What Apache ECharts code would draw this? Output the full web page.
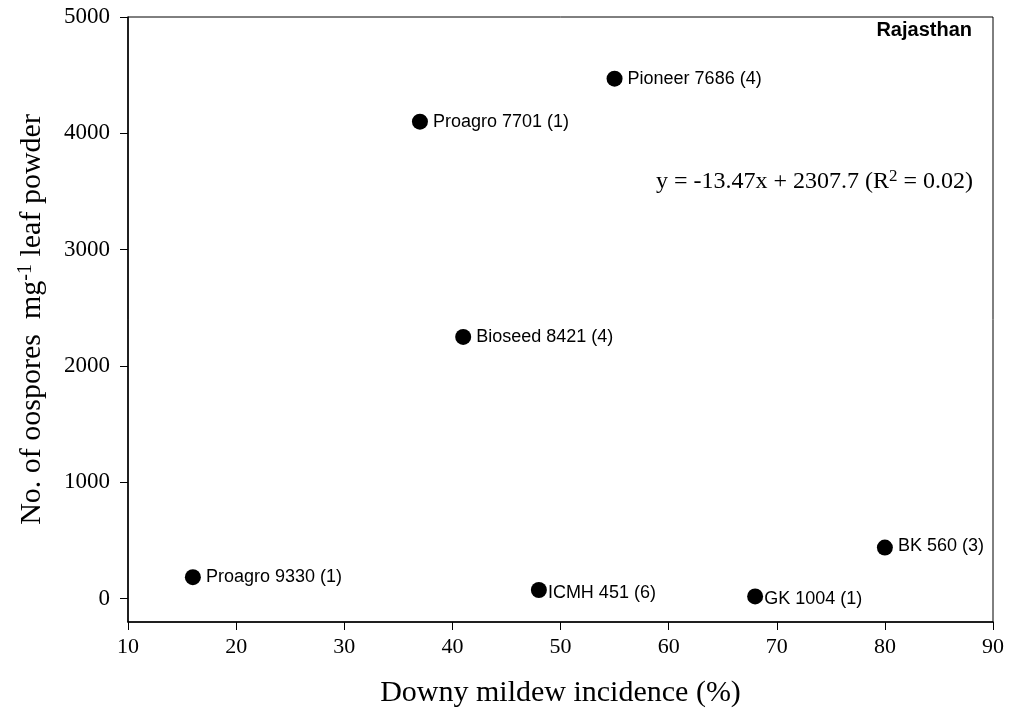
<!DOCTYPE html>
<html>
<head>
<meta charset="utf-8">
<title>Rajasthan - oospores vs downy mildew</title>
<script src="https://cdn.jsdelivr.net/npm/echarts@6/dist/echarts.min.js"></script>
<style>
  html, body { margin: 0; padding: 0; background: #fff; }
  #chart { width: 1009px; height: 717px; }
</style>
</head>
<body>
<div id="chart"></div>
<script>
  // cultivar (number of samples), downy mildew incidence (%), oospores per mg leaf powder
  const cultivars = ['Proagro 9330 (1)', 'Proagro 7701 (1)', 'Bioseed 8421 (4)', 'ICMH 451 (6)',
                     'Pioneer 7686 (4)', 'GK 1004 (1)', 'BK 560 (3)'];
  const incidence = [16, 37, 41, 48, 55, 68, 80];
  const oospores = [185, 4100, 2250, 75, 4470, 20, 440];
  const yTicks = [0, 1000, 2000, 3000, 4000, 5000];

  // labels that sit tight against the dot and a bit lower
  const tightLabels = { 'ICMH 451 (6)': [-4, 3], 'GK 1004 (1)': [-4, 3], 'BK 560 (3)': [0, -2] };

  let myChart = echarts.init(document.getElementById('chart'));

  let points = cultivars.map((name, i) => {
    let item = { name: name, value: [incidence[i], oospores[i]] };
    if (tightLabels[name]) {
      item.label = { offset: tightLabels[name] };
    }
    return item;
  });

  myChart.setOption({
    animation: false,
    grid: {
      left: 128,
      right: 16,
      top: 17,
      bottom: 95,
      show: true,
      borderColor: '#000',
      borderWidth: 1
    },
    xAxis: {
      type: 'value',
      min: 10,
      max: 90,
      interval: 10,
      name: 'Downy mildew incidence (%)',
      nameLocation: 'middle',
      nameGap: 56,
      nameTextStyle: { fontFamily: 'Liberation Serif', fontSize: 30, color: '#000' },
      axisLine: { onZero: false, lineStyle: { color: '#000', width: 1.5 } },
      axisTick: { inside: false, length: 8, lineStyle: { color: '#000' } },
      axisLabel: { margin: 14, fontFamily: 'Liberation Serif', fontSize: 22, color: '#000' },
      splitLine: { show: false }
    },
    yAxis: {
      type: 'value',
      min: -200,
      max: 5000,
      name: 'No. of oospores  mg{sup|-1} leaf powder',
      nameLocation: 'middle',
      nameGap: 80,
      nameTextStyle: {
        fontFamily: 'Liberation Serif', fontSize: 30, color: '#000',
        rich: {
          sup: { fontFamily: 'Liberation Serif', fontSize: 20, color: '#000', verticalAlign: 'top', padding: [0, 0, 12, 0] }
        }
      },
      axisLine: { onZero: false, lineStyle: { color: '#000', width: 1.5 } },
      axisTick: { inside: false, length: 8, customValues: yTicks, lineStyle: { color: '#000' } },
      axisLabel: {
        margin: 18,
        customValues: yTicks,
        formatter: (v) => String(v),
        fontFamily: 'Liberation Serif',
        fontSize: 23,
        color: '#000'
      },
      splitLine: { show: false }
    },
    series: [{
      type: 'scatter',
      symbol: 'circle',
      symbolSize: 16,
      itemStyle: { color: '#000', opacity: 1 },
      label: {
        show: true,
        position: 'right',
        distance: 5,
        formatter: '{b}',
        fontFamily: 'Liberation Sans',
        fontSize: 18,
        color: '#000'
      },
      data: points
    }],
    graphic: [{
      type: 'text',
      right: 37,
      top: 20,
      style: {
        text: 'Rajasthan',
        fontFamily: 'Liberation Sans',
        fontWeight: 'bold',
        fontSize: 20,
        fill: '#000'
      }
    }, {
      type: 'text',
      left: 656,
      top: 168,
      style: {
        text: 'y = -13.47x + 2307.7 (R{sup|2} = 0.02)',
        fontFamily: 'Liberation Serif',
        fontSize: 24,
        fill: '#000',
        rich: {
          sup: { fontFamily: 'Liberation Serif', fontSize: 17, fill: '#000', verticalAlign: 'top', padding: [0, 0, 10, 0] }
        }
      }
    }]
  });

  window.addEventListener('resize', () => {
    myChart.resize();
  });
</script>
</body>
</html>
